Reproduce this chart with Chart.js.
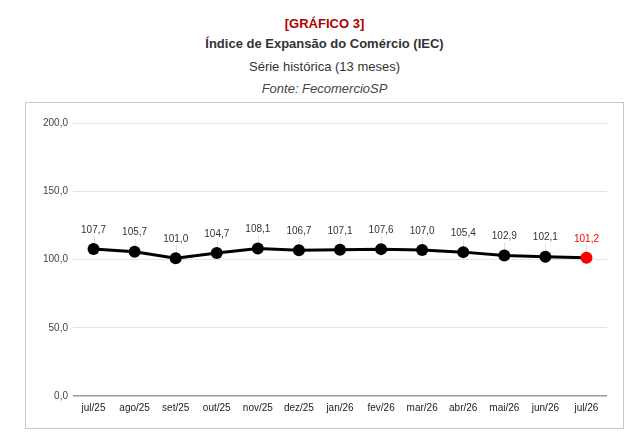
<!DOCTYPE html>
<html>
<head>
<meta charset="utf-8">
<script src="https://cdn.jsdelivr.net/npm/chart.js@4.4.1/dist/chart.umd.min.js"></script>
<style>
  body { margin: 0; background: #fff; font-family: "Liberation Sans", Arial, sans-serif; }
  #page { position: relative; width: 639px; height: 443px; }
  .t { position: absolute; left: 26px; width: 597px; text-align: center; font-size: 13px; line-height: 16px; color: #333; }
  #box { position: absolute; left: 25px; top: 102px; width: 597px; height: 325px; border: 1px solid #c8c8c8; }
</style>
</head>
<body>
<div id="page">
  <div class="t" style="top:16px; color:#b00000; font-weight:bold;">[GRÁFICO 3]</div>
  <div class="t" style="top:36px; font-weight:bold; color:#333;">Índice de Expansão do Comércio (IEC)</div>
  <div class="t" style="top:59px;">Série histórica (13 meses)</div>
  <div class="t" style="top:81px; font-style:italic; color:#444;">Fonte: FecomercioSP</div>
  <div id="box"><canvas id="chart" width="597" height="325"></canvas></div>
</div>
<script>
const months = ["jul/25", "ago/25", "set/25", "out/25", "nov/25", "dez/25", "jan/26",
  "fev/26", "mar/26", "abr/26", "mai/26", "jun/26", "jul/26"];
const iecValues = [107.7, 105.7, 101.0, 104.7, 108.1, 106.7, 107.1, 107.6, 107.0, 105.4, 102.9, 102.1, 101.2];
const yTicks = [0, 50, 100, 150, 200];

const fmt = (v) => v.toFixed(1).replace(".", ",");
const isLast = (i) => i === iecValues.length - 1;

// labels above each point, with a thin stem down to the marker
const pointLabels = {
  id: "pointLabels",
  beforeDatasetsDraw(chart) {
    const ctx = chart.ctx;
    ctx.save();
    ctx.strokeStyle = "#e2e2e2";
    ctx.lineWidth = 1;
    chart.getDatasetMeta(0).data.forEach((pt) => {
      ctx.beginPath();
      ctx.moveTo(Math.round(pt.x) + 0.5, pt.y - 13);
      ctx.lineTo(Math.round(pt.x) + 0.5, pt.y);
      ctx.stroke();
    });
    ctx.restore();
  },
  afterDatasetsDraw(chart) {
    const ctx = chart.ctx;
    ctx.save();
    ctx.font = "10px 'Liberation Sans', Arial, sans-serif";
    ctx.textAlign = "center";
    ctx.textBaseline = "middle";
    chart.getDatasetMeta(0).data.forEach((pt, i) => {
      ctx.fillStyle = isLast(i) ? "#ff0000" : "#333";
      ctx.fillText(fmt(iecValues[i]), pt.x, pt.y - 19);
    });
    ctx.restore();
  },
};

new Chart(document.getElementById("chart"), {
  type: "line",
  data: {
    labels: months,
    datasets: [
      {
        data: iecValues,
        borderColor: "#000",
        borderWidth: 3,
        tension: 0,
        pointRadius: 6,
        pointHoverRadius: 6,
        pointBorderWidth: 0,
        pointBackgroundColor: (c) => (isLast(c.dataIndex) ? "#ff0000" : "#000"),
      },
    ],
  },
  options: {
    responsive: false,
    animation: false,
    events: [],
    layout: { padding: { left: 0, right: 16, top: 20, bottom: 0 } },
    plugins: { legend: { display: false }, tooltip: { enabled: false } },
    scales: {
      x: {
        offset: true,
        grid: { display: false, drawTicks: false },
        border: { display: false },
        ticks: { padding: 6, color: "#222", font: { size: 10, family: "'Liberation Sans', Arial" }, maxRotation: 0, autoSkip: false },
        afterFit: (s) => { s.height = 32; },
      },
      y: {
        min: yTicks[0],
        max: yTicks[yTicks.length - 1],
        afterBuildTicks: (s) => { s.ticks = yTicks.map((v) => ({ value: v })); },
        grid: {
          drawTicks: false,
          color: (c) => (c.tick && c.tick.value === 0 ? "#999" : "#e4e4e4"),
          lineWidth: (c) => (c.tick && c.tick.value === 0 ? 1.5 : 1),
        },
        border: { display: false },
        ticks: { padding: 5, color: "#444", font: { size: 10, family: "'Liberation Sans', Arial" }, callback: (v) => fmt(v) },
        afterFit: (s) => { s.width = 47; },
      },
    },
  },
  plugins: [pointLabels],
});
</script>
</body>
</html>
